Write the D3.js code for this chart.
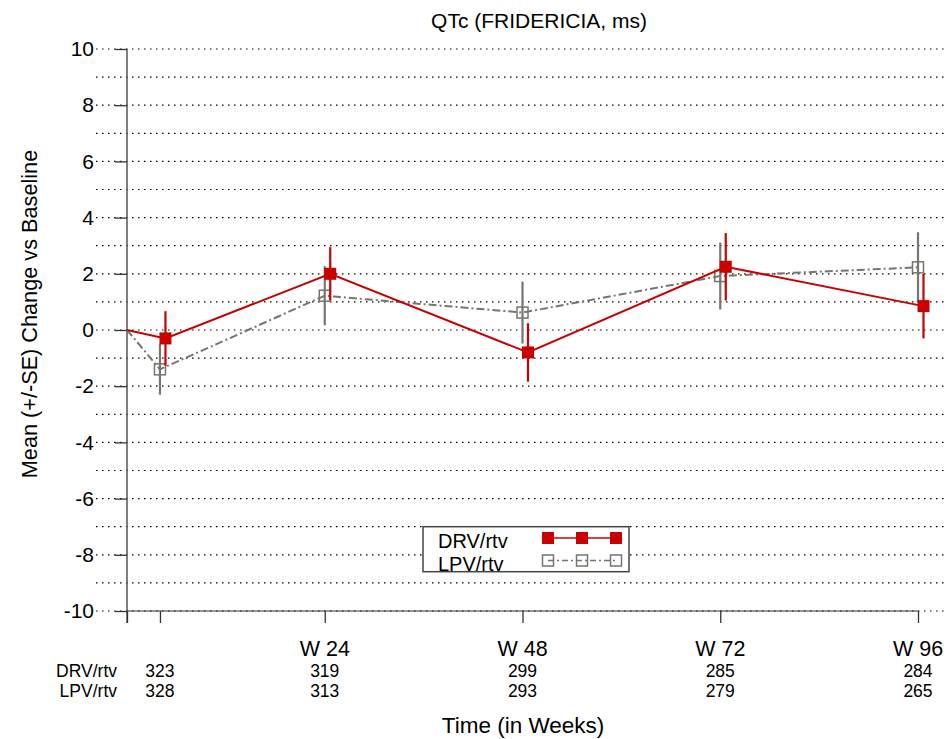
<!DOCTYPE html>
<html><head><meta charset="utf-8">
<script src="https://cdn.jsdelivr.net/npm/d3@7"></script>
<style>body{margin:0;background:#fff}svg{display:block;font-family:"Liberation Sans",Arial,sans-serif}</style>
</head><body><svg id="c" width="949" height="739"></svg>
<script>
const title = "QTc (FRIDERICIA, ms)";
const weeks = [4, 24, 48, 72, 96];
const weekLabels = ["", "W 24", "W 48", "W 72", "W 96"];
const seriesNames = ["DRV/rtv", "LPV/rtv"];
const drvMean = [-0.3, 2.0, -0.8, 2.25, 0.85];
const drvSE = [0.97, 0.95, 1.04, 1.2, 1.15];
const lpvMean = [-1.4, 1.22, 0.62, 1.92, 2.23];
const lpvSE = [0.9, 1.05, 1.1, 1.19, 1.25];
const drvN = [323, 319, 299, 285, 284];
const lpvN = [328, 313, 293, 279, 265];
const yTicks = [-10, -8, -6, -4, -2, 0, 2, 4, 6, 8, 10];
const yGrid = d3.range(-10, 11, 1);

const svg = d3.select("#c");
const x = d3.scaleLinear().domain([0, 96]).range([127, 918]);
const y = d3.scaleLinear().domain([-10, 10]).range([611, 49]);
const red = "#c80000", gray = "#76766e";

// gridlines
svg.append("g").selectAll("line").data(yGrid).join("line")
  .attr("x1", 96).attr("x2", 946).attr("y1", d => y(d)).attr("y2", d => y(d))
  .attr("stroke", "#000").attr("stroke-width", 1.2).attr("stroke-dasharray", "1.5,4.5");

// y axis
const yAx = svg.append("g").attr("transform", "translate(127,0)")
  .call(d3.axisLeft(y).tickValues(yTicks).tickSize(12).tickPadding(21).tickFormat(d => String(d)));
yAx.select(".domain").remove();
yAx.selectAll(".tick line").attr("stroke", "#333").attr("stroke-width", 1.3);
yAx.selectAll(".tick text").attr("font-size", 21).attr("fill", "#000").attr("font-family", "Liberation Sans, Arial, sans-serif");
svg.append("line").attr("x1", 127).attr("x2", 127).attr("y1", y(10)).attr("y2", 623).attr("stroke", "#555").attr("stroke-width", 1.5);

// x axis
const xAx = svg.append("g").attr("transform", "translate(0,611)")
  .call(d3.axisBottom(x).tickValues([0].concat(weeks)).tickSize(12).tickFormat(""));
xAx.select(".domain").attr("d", `M${x(0)},0H${x(96)}`).attr("stroke", "#333").attr("stroke-width", 1.2);
xAx.selectAll(".tick line").attr("stroke", "#333").attr("stroke-width", 1.3);

svg.append("g").selectAll("text").data(weeks).join("text")
  .attr("x", d => x(d)).attr("y", 656).attr("text-anchor", "middle").attr("font-size", 21.5)
  .text((d, i) => weekLabels[i]);

// N table
const nRows = [drvN, lpvN];
nRows.forEach((row, r) => {
  const yy = 677 + r * 19.5;
  svg.append("text").attr("x", 117).attr("y", yy).attr("text-anchor", "end").attr("font-size", 17.5).text(seriesNames[r]);
  svg.append("g").selectAll("text").data(row).join("text")
    .attr("x", (d, i) => x(weeks[i])).attr("y", yy).attr("text-anchor", "middle").attr("font-size", 17.5).text(d => d);
});

// series
function drawSeries(mean, se, color, dx, filled, dash) {
  const g = svg.append("g");
  const pts = [[x(0), y(0)]].concat(mean.map((m, i) => [x(weeks[i]) + dx, y(m)]));
  g.append("path").attr("d", d3.line()(pts)).attr("fill", "none").attr("stroke", color)
    .attr("stroke-width", 2).attr("stroke-dasharray", dash);
  g.selectAll("line.eb").data(mean).join("line").attr("class", "eb")
    .attr("x1", (d, i) => x(weeks[i]) + dx).attr("x2", (d, i) => x(weeks[i]) + dx)
    .attr("y1", (d, i) => y(d + se[i])).attr("y2", (d, i) => y(d - se[i]))
    .attr("stroke", color).attr("stroke-width", 2.2);
  const s = filled ? 12 : 11;
  g.selectAll("rect").data(mean).join("rect")
    .attr("x", (d, i) => x(weeks[i]) + dx - s / 2).attr("y", d => y(d) - s / 2)
    .attr("width", s).attr("height", s)
    .attr("fill", filled ? color : "none").attr("stroke", filled ? "none" : color).attr("stroke-width", 1.5);
}
drawSeries(lpvMean, lpvSE, gray, 0, false, "8,3,2,3");
drawSeries(drvMean, drvSE, red, 5.5, true, null);

// legend
const lg = svg.append("g");
lg.append("rect").attr("x", 423).attr("y", y(-7)).attr("width", 206).attr("height", 45)
  .attr("fill", "#fff").attr("stroke", "#444").attr("stroke-width", 1.5);
const lx = [548, 582, 616];
[[red, true, null, 538], [gray, false, "6,3,2,3", 560.5]].forEach((c, r) => {
  lg.append("text").attr("x", 438).attr("y", c[3] + 10).attr("font-size", 20).text(seriesNames[r]);
  lg.append("line").attr("x1", lx[0]).attr("x2", lx[2]).attr("y1", c[3]).attr("y2", c[3])
    .attr("stroke", c[0]).attr("stroke-width", 1.5).attr("stroke-dasharray", c[2]);
  lx.forEach(xx => {
    const s = c[1] ? 12 : 11;
    lg.append("rect").attr("x", xx - s / 2).attr("y", c[3] - s / 2).attr("width", s).attr("height", s)
      .attr("fill", c[1] ? c[0] : "none").attr("stroke", c[1] ? "none" : c[0]).attr("stroke-width", 1.5);
  });
});

// titles
svg.append("text").attr("x", 539).attr("y", 28).attr("text-anchor", "middle").attr("font-size", 21).text(title);
svg.append("text").attr("x", 523).attr("y", 733).attr("text-anchor", "middle").attr("font-size", 22.5).text("Time (in Weeks)");
svg.append("text").attr("transform", "translate(37,314) rotate(-90)").attr("text-anchor", "middle").attr("font-size", 21.7)
  .text("Mean (+/-SE) Change vs Baseline");
</script></body></html>
